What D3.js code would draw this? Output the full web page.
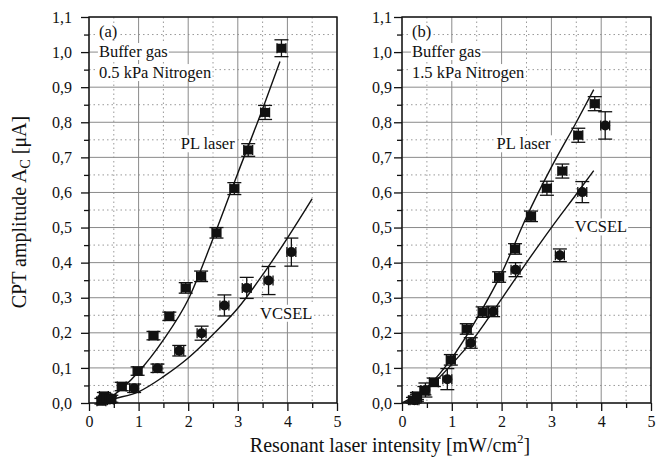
<!DOCTYPE html>
<html>
<head>
<meta charset="utf-8">
<script src="https://cdn.jsdelivr.net/npm/d3@7"></script>
<style>
body { margin: 0; background: #fff; }
text { font-family: "Liberation Serif", "Times New Roman", serif; fill: #111; }
</style>
</head>
<body>
<script>
// axis ticks
var xTicks = [0, 1, 2, 3, 4, 5];
var xMinor = [0.5, 1.5, 2.5, 3.5, 4.5];
var yTicks = [0, 0.1, 0.2, 0.3, 0.4, 0.5, 0.6, 0.7, 0.8, 0.9, 1.0, 1.1];
var yMinor = [0.05, 0.15, 0.25, 0.35, 0.45, 0.55, 0.65, 0.75, 0.85, 0.95, 1.05];

// panel (a) - 0.5 kPa
var aPlX   = [0.25, 0.30, 0.35, 0.40, 0.45, 0.66, 0.98, 1.30, 1.62, 1.95, 2.26, 2.57, 2.93, 3.21, 3.55, 3.88];
var aPlY   = [0.005, 0.02, 0.015, 0.01, 0.012, 0.047, 0.091, 0.192, 0.247, 0.328, 0.361, 0.485, 0.611, 0.721, 0.828, 1.011];
var aPlErr = [0.008, 0.01, 0.01, 0.01, 0.01, 0.012, 0.012, 0.012, 0.012, 0.015, 0.015, 0.015, 0.017, 0.018, 0.02, 0.024];
var aVcX   = [0.28, 0.35, 0.42, 0.91, 1.38, 1.82, 2.27, 2.73, 3.18, 3.62, 4.08];
var aVcY   = [0.008, 0.012, 0.01, 0.042, 0.099, 0.149, 0.199, 0.278, 0.328, 0.349, 0.43];
var aVcErr = [0.008, 0.008, 0.008, 0.012, 0.012, 0.015, 0.02, 0.03, 0.03, 0.04, 0.04];
var aFitPlX = [0.15, 0.5, 1.0, 1.5, 2.0, 2.5, 3.0, 3.5, 3.85];
var aFitPlY = [0, 0.023, 0.089, 0.18, 0.295, 0.468, 0.655, 0.838, 0.973];
var aFitVcX = [0.2, 0.5, 1.0, 1.5, 2.0, 2.5, 3.0, 3.5, 4.0, 4.5];
var aFitVcY = [0, 0.012, 0.032, 0.075, 0.128, 0.195, 0.27, 0.365, 0.47, 0.582];

// panel (b) - 1.5 kPa
var bPlX   = [0.22, 0.30, 0.45, 0.64, 0.98, 1.30, 1.62, 1.95, 2.27, 2.59, 2.91, 3.22, 3.54, 3.87];
var bPlY   = [0.008, 0.02, 0.035, 0.059, 0.123, 0.211, 0.259, 0.359, 0.439, 0.532, 0.612, 0.661, 0.763, 0.853];
var bPlErr = [0.008, 0.01, 0.012, 0.012, 0.015, 0.015, 0.015, 0.015, 0.015, 0.015, 0.02, 0.02, 0.02, 0.02];
var bVcX   = [0.25, 0.30, 0.47, 0.91, 1.38, 1.83, 2.28, 3.17, 3.62, 4.08];
var bVcY   = [0.008, 0.015, 0.037, 0.068, 0.171, 0.261, 0.380, 0.421, 0.601, 0.791];
var bVcErr = [0.008, 0.01, 0.02, 0.03, 0.015, 0.015, 0.02, 0.018, 0.03, 0.039];
var bFitPlX = [0.0, 0.5, 1.0, 1.5, 2.0, 2.5, 3.0, 3.5, 3.85];
var bFitPlY = [0, 0.045, 0.128, 0.24, 0.37, 0.53, 0.672, 0.8, 0.893];
var bFitVcX = [0.05, 0.5, 1.0, 1.5, 2.0, 2.5, 3.0, 3.5, 3.85];
var bFitVcY = [0, 0.04, 0.11, 0.195, 0.297, 0.4, 0.5, 0.595, 0.662];

var xErr = 0.09;

var W = 668, H = 464;
var top_ = 17, bottom_ = 403;

var svg = d3.select("body").append("svg")
    .attr("width", W)
    .attr("height", H);

function zip(xs, ys, es) {
    return xs.map(function (d, i) {
        return { x: d, y: ys[i], e: es ? es[i] : 0 };
    });
}

function drawPanel(cfg) {
    var x = d3.scaleLinear().domain([0, 5]).range([cfg.left, cfg.right]);
    var y = d3.scaleLinear().domain([0, 1.1]).range([bottom_, top_]);
    var g = svg.append("g");

    // grid
    g.selectAll(".gxm").data(xMinor).enter().append("line")
        .attr("x1", d => x(d)).attr("x2", d => x(d))
        .attr("y1", top_).attr("y2", bottom_)
        .attr("stroke", "#999").attr("stroke-width", 1).attr("stroke-dasharray", "1.5,3");
    g.selectAll(".gym").data(yMinor).enter().append("line")
        .attr("y1", d => y(d)).attr("y2", d => y(d))
        .attr("x1", cfg.left).attr("x2", cfg.right)
        .attr("stroke", "#999").attr("stroke-width", 1).attr("stroke-dasharray", "1.5,3");
    g.selectAll(".gx").data(xTicks).enter().append("line")
        .attr("x1", d => x(d)).attr("x2", d => x(d))
        .attr("y1", top_).attr("y2", bottom_)
        .attr("stroke", "#8a8a8a").attr("stroke-width", 1);
    g.selectAll(".gy").data(yTicks).enter().append("line")
        .attr("y1", d => y(d)).attr("y2", d => y(d))
        .attr("x1", cfg.left).attr("x2", cfg.right)
        .attr("stroke", "#8a8a8a").attr("stroke-width", 1);

    // annotations with white boxes
    function label(txt, xv, yv) {
        var t = g.append("text")
            .attr("x", x(xv)).attr("y", y(yv))
            .style("font-size", "16.5px")
            .text(txt);
        var bb = t.node().getBBox();
        g.insert("rect", function () { return t.node(); })
            .attr("x", bb.x - 1).attr("y", bb.y + 1)
            .attr("width", bb.width + 2).attr("height", bb.height - 2)
            .attr("fill", "#fff");
    }
    label(cfg.tag, 0.2, 1.043);
    label("Buffer gas", 0.2, 0.986);
    label(cfg.gas, 0.2, 0.926);
    label("PL laser", cfg.plLab[0], cfg.plLab[1]);
    label("VCSEL", cfg.vcLab[0], cfg.vcLab[1]);

    // fit curves
    var line = d3.line()
        .x(d => x(d.x))
        .y(d => y(d.y))
        .curve(d3.curveMonotoneX);
    g.append("path").datum(zip(cfg.fitPlX, cfg.fitPlY))
        .attr("d", line).attr("fill", "none")
        .attr("stroke", "#111").attr("stroke-width", 1.4);
    g.append("path").datum(zip(cfg.fitVcX, cfg.fitVcY))
        .attr("d", line).attr("fill", "none")
        .attr("stroke", "#111").attr("stroke-width", 1.4);

    // error bars
    function errBars(data) {
        var eg = g.append("g").attr("stroke", "#111").attr("stroke-width", 1.3);
        data.forEach(function (d) {
            var cx = x(d.x), cy = y(d.y);
            eg.append("line").attr("x1", cx).attr("x2", cx)
                .attr("y1", y(d.y - d.e)).attr("y2", y(d.y + d.e));
            eg.append("line").attr("x1", cx - 7).attr("x2", cx + 7)
                .attr("y1", y(d.y - d.e)).attr("y2", y(d.y - d.e));
            eg.append("line").attr("x1", cx - 7).attr("x2", cx + 7)
                .attr("y1", y(d.y + d.e)).attr("y2", y(d.y + d.e));
            eg.append("line").attr("x1", x(d.x - xErr)).attr("x2", x(d.x + xErr))
                .attr("y1", cy).attr("y2", cy);
            eg.append("line").attr("x1", x(d.x - xErr)).attr("x2", x(d.x - xErr))
                .attr("y1", cy - 5).attr("y2", cy + 5);
            eg.append("line").attr("x1", x(d.x + xErr)).attr("x2", x(d.x + xErr))
                .attr("y1", cy - 5).attr("y2", cy + 5);
        });
    }
    var pl = zip(cfg.plX, cfg.plY, cfg.plErr);
    var vc = zip(cfg.vcX, cfg.vcY, cfg.vcErr);
    errBars(vc);
    errBars(pl);

    g.selectAll(".vc").data(vc).enter().append("circle")
        .attr("cx", d => x(d.x)).attr("cy", d => y(d.y))
        .attr("r", 5).attr("fill", "#111");
    g.selectAll(".pl").data(pl).enter().append("rect")
        .attr("x", d => x(d.x) - 4.5).attr("y", d => y(d.y) - 4.5)
        .attr("width", 9).attr("height", 9).attr("fill", "#111");

    // axes
    var fmt = d => d3.format(".1f")(d).replace(".", ",");
    var ya = g.append("g").attr("transform", "translate(" + cfg.left + ",0)")
        .call(d3.axisLeft(y).tickValues(yTicks).tickFormat(fmt).tickSize(8).tickPadding(cfg.yPad));
    var ym = g.append("g").attr("transform", "translate(" + cfg.left + ",0)")
        .call(d3.axisLeft(y).tickValues(yMinor).tickFormat("").tickSize(5));
    var xa = g.append("g").attr("transform", "translate(0," + bottom_ + ")")
        .call(d3.axisBottom(x).tickValues(xTicks).tickFormat(d3.format("d")).tickSize(8).tickPadding(5));
    var xm = g.append("g").attr("transform", "translate(0," + bottom_ + ")")
        .call(d3.axisBottom(x).tickValues(xMinor).tickFormat("").tickSize(5));
    [ya, ym, xa, xm].forEach(function (a) {
        a.select(".domain").remove();
        a.selectAll("line").attr("stroke", "#111").attr("stroke-width", 1.3);
        a.selectAll("text").style("font-size", "16px").style("font-family", "Liberation Serif").attr("fill", "#111");
    });

    g.append("rect")
        .attr("x", cfg.left).attr("y", top_)
        .attr("width", cfg.right - cfg.left).attr("height", bottom_ - top_)
        .attr("fill", "none").attr("stroke", "#111").attr("stroke-width", 1.4);
}

drawPanel({
    left: 89, right: 337, tag: "(a)", gas: "0.5 kPa Nitrogen", yPad: 9,
    plX: aPlX, plY: aPlY, plErr: aPlErr, vcX: aVcX, vcY: aVcY, vcErr: aVcErr,
    fitPlX: aFitPlX, fitPlY: aFitPlY, fitVcX: aFitVcX, fitVcY: aFitVcY,
    plLab: [1.85, 0.723], vcLab: [3.45, 0.24]
});
drawPanel({
    left: 402, right: 651, tag: "(b)", gas: "1.5 kPa Nitrogen", yPad: 2,
    plX: bPlX, plY: bPlY, plErr: bPlErr, vcX: bVcX, vcY: bVcY, vcErr: bVcErr,
    fitPlX: bFitPlX, fitPlY: bFitPlY, fitVcX: bFitVcX, fitVcY: bFitVcY,
    plLab: [1.9, 0.723], vcLab: [3.47, 0.486]
});

// axis titles
var yt = svg.append("text")
    .attr("transform", "translate(26,212) rotate(-90)")
    .attr("text-anchor", "middle")
    .style("font-size", "20px");
yt.append("tspan").text("CPT amplitude A");
yt.append("tspan").attr("dy", 4).style("font-size", "14px").text("C");
yt.append("tspan").attr("dy", -4).text(" [\u03bcA]");

var xt = svg.append("text")
    .attr("x", 390).attr("y", 452)
    .attr("text-anchor", "middle")
    .style("font-size", "20px");
xt.append("tspan").text("Resonant laser intensity [mW/cm");
xt.append("tspan").attr("dy", -9).style("font-size", "13px").text("2");
xt.append("tspan").attr("dy", 9).text("]");
</script>
</body>
</html>
